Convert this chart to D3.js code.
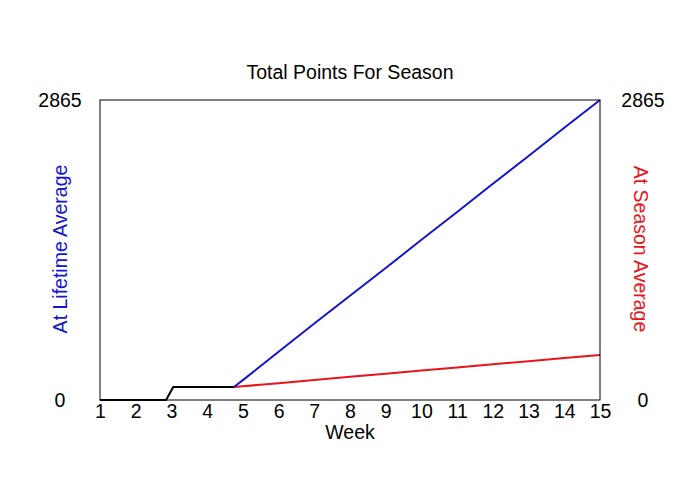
<!DOCTYPE html>
<html>
<head>
<meta charset="utf-8">
<script src="https://cdn.jsdelivr.net/npm/d3@7"></script>
<style>
  body { margin: 0; background: #fff; }
  text { font-family: "Liberation Sans", Arial, sans-serif; }
</style>
</head>
<body>
<div id="grafico"></div>
<script>
// Datos
var weeks = [1, 2, 3, 4, 5, 6, 7, 8, 9, 10, 11, 12, 13, 14, 15];
var yMax = 2865;

// tramo antes del inicio (negro)
var pre_x = [1, 2, 2.85, 3.05, 4, 4.75];
var pre_y = [0, 0, 0, 124, 124, 124];

// promedio de toda la carrera (azul)
var life_x = [4.75, 5, 6, 7, 8, 9, 10, 11, 12, 13, 14, 15];
var life_y = [124, 190, 460, 730, 995, 1260, 1530, 1795, 2065, 2330, 2600, 2865];

// promedio de la temporada (rojo)
var season_x = [4.75, 5, 6, 7, 8, 9, 10, 11, 12, 13, 14, 15];
var season_y = [124, 131, 161, 191, 221, 251, 281, 311, 341, 370, 400, 430];

var geom_line = function(id, width_f, height_f, letra) {
    var svg = d3.select(id).append("svg")
        .attr("width", width_f)
        .attr("height", height_f);

    var margin = {top: 100, right: 100, bottom: 100, left: 100},
        width = width_f - margin.left - margin.right,
        height = height_f - margin.top - margin.bottom,
        g = svg.append("g").attr("transform", "translate(" + margin.left + "," + margin.top + ")");

    var x = d3.scaleLinear().domain([1, 15]).range([0, width]);
    var y = d3.scaleLinear().domain([0, yMax]).range([height, 0]);

    var line = d3.line()
        .x(function(d) { return x(d[0]); })
        .y(function(d) { return y(d[1]); });

    var zip = function(a, b) { return a.map(function(v, i) { return [v, b[i]]; }); };

    g.append("path").datum(zip(pre_x, pre_y))
        .attr("d", line).attr("fill", "none").attr("stroke", "#000").attr("stroke-width", 2);
    g.append("path").datum(zip(season_x, season_y))
        .attr("d", line).attr("fill", "none").attr("stroke", "#e8141c").attr("stroke-width", 2);
    g.append("path").datum(zip(life_x, life_y))
        .attr("d", line).attr("fill", "none").attr("stroke", "#1414d2").attr("stroke-width", 2);

    // marco
    g.append("rect")
        .attr("width", width).attr("height", height)
        .attr("fill", "none").attr("stroke", "#000").attr("stroke-width", 1);

    // eje x sin marcas
    var xAxis = g.append("g")
        .attr("transform", "translate(0," + height + ")")
        .call(d3.axisBottom(x).tickValues(weeks).tickSize(0).tickFormat(d3.format("d")));
    xAxis.select(".domain").remove();
    xAxis.selectAll("text")
        .attr("font-size", letra).attr("fill", "#000")
        .attr("font-family", "Liberation Sans, Arial, sans-serif")
        .attr("y", 11)
        .attr("dy", "0.35em");

    // etiquetas y
    [0, yMax].forEach(function(v) {
        g.append("text").attr("x", -40).attr("y", y(v)).attr("dy", "0.35em")
            .attr("text-anchor", "middle").attr("font-size", letra).text(v);
        g.append("text").attr("x", width + 43).attr("y", y(v)).attr("dy", "0.35em")
            .attr("text-anchor", "middle").attr("font-size", letra).text(v);
    });

    svg.append("text").attr("x", width_f / 2).attr("y", 79)
        .attr("text-anchor", "middle").attr("font-size", letra).text("Total Points For Season");

    svg.append("text").attr("x", width_f / 2).attr("y", 439)
        .attr("text-anchor", "middle").attr("font-size", letra).text("Week");

    svg.append("text")
        .attr("transform", "translate(67,249) rotate(-90)")
        .attr("text-anchor", "middle").attr("font-size", letra).attr("fill", "#1414d2")
        .text("At Lifetime Average");

    svg.append("text")
        .attr("transform", "translate(634,249) rotate(90)")
        .attr("text-anchor", "middle").attr("font-size", letra).attr("fill", "#e8141c")
        .text("At Season Average");
};

geom_line("#grafico", 700, 500, 19.5);
</script>
</body>
</html>
